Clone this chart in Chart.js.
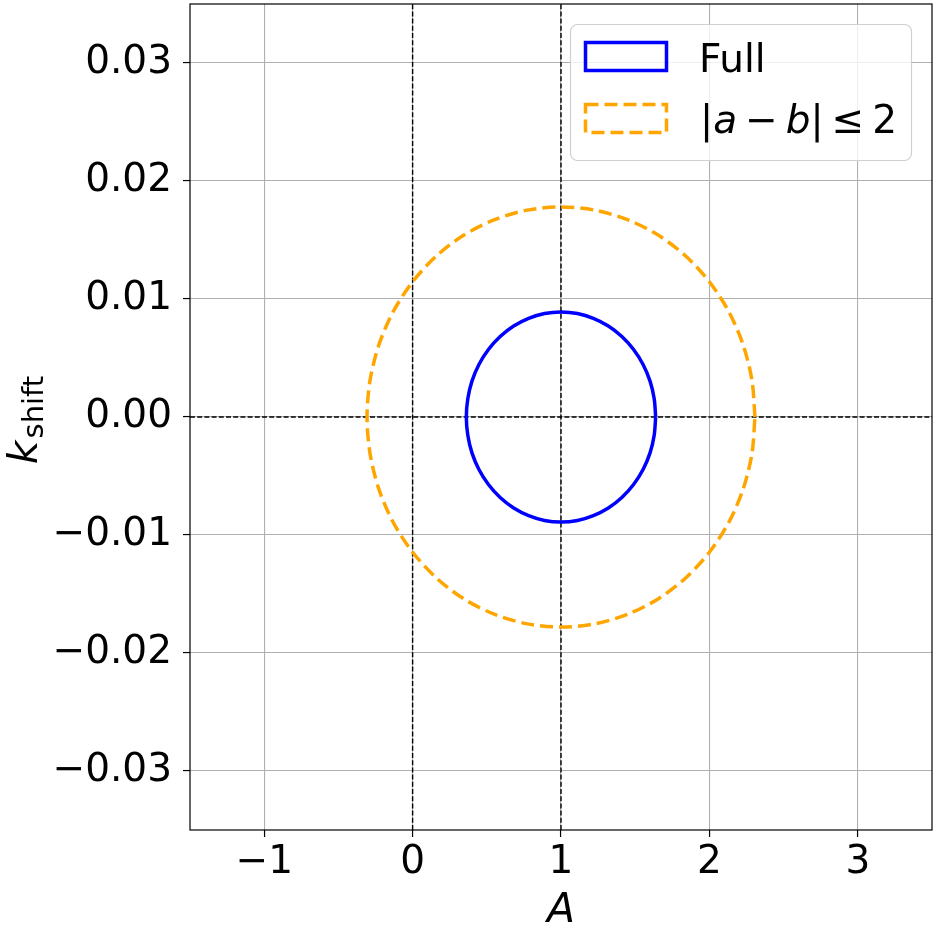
<!DOCTYPE html>
<html><head><meta charset="utf-8">
<script src="https://cdn.jsdelivr.net/npm/chart.js@4.4.0/dist/chart.umd.min.js"></script>
<style>html,body{margin:0;padding:0;background:#fff}#wrap{width:936px;height:936px}</style>
</head><body><div id="wrap"><canvas id="c" width="936" height="936"></canvas></div>
<script>
// ---- data (points traced around each contour) ----
const fullA = [1.638,1.628,1.600,1.553,1.489,1.410,1.319,1.218,1.111,1.000,0.889,0.782,0.681,0.590,0.511,0.447,0.400,0.372,0.362,
               0.372,0.400,0.447,0.511,0.590,0.681,0.782,0.889,1.000,1.111,1.218,1.319,1.410,1.489,1.553,1.600,1.628,1.638];
const fullK = [0,0.00155,0.00304,0.00445,0.00572,0.00682,0.00771,0.00836,0.00877,0.00890,0.00877,0.00836,0.00771,0.00682,0.00572,0.00445,0.00304,0.00155,0,
               -0.00155,-0.00304,-0.00445,-0.00572,-0.00682,-0.00771,-0.00836,-0.00877,-0.00890,-0.00877,-0.00836,-0.00771,-0.00682,-0.00572,-0.00445,-0.00304,-0.00155,0];
const restA = [2.307,2.287,2.228,2.132,2.001,1.840,1.654,1.447,1.227,1.000,0.773,0.553,0.346,0.160,-0.001,-0.132,-0.228,-0.287,-0.307,
               -0.287,-0.228,-0.132,-0.001,0.160,0.346,0.553,0.773,1.000,1.227,1.447,1.654,1.840,2.001,2.132,2.228,2.287,2.307];
const restK = [0,0.00309,0.00609,0.00890,0.01144,0.01364,0.01542,0.01673,0.01753,0.01780,0.01753,0.01673,0.01542,0.01364,0.01144,0.00890,0.00609,0.00309,0,
               -0.00309,-0.00609,-0.00890,-0.01144,-0.01364,-0.01542,-0.01673,-0.01753,-0.01780,-0.01753,-0.01673,-0.01542,-0.01364,-0.01144,-0.00890,-0.00609,-0.00309,0];
const vRefA = [0, 1];
const hRefK = [0];
const xRange = [-1.5, 3.5];
const yRange = [-0.035, 0.035];
const xTicks = [-1, 0, 1, 2, 3];
const xTickLabels = ['\u22121', '0', '1', '2', '3'];
const yTicks = [-0.03, -0.02, -0.01, 0, 0.01, 0.02, 0.03];
const yTickLabels = ['\u22120.03', '\u22120.02', '\u22120.01', '0.00', '0.01', '0.02', '0.03'];
const seriesNames = ['Full', '|a \u2212 b| \u2264 2'];
const xTitle = 'A';
const yTitleMain = 'k';
const yTitleSub = 'shift';

const FONT = "'DejaVu Sans'";
const toPts = (xs, ys) => xs.map((x, i) => ({x: x, y: ys[i]}));

const datasets = [
  {label: seriesNames[0], data: toPts(fullA, fullK), borderColor: '#0000ff', borderWidth: 3.5, showLine: true, pointRadius: 0, tension: 0.3, fill: false},
  {label: seriesNames[1], data: toPts(restA, restK), borderColor: '#ffa500', borderWidth: 3.5, borderDash: [13, 6], showLine: true, pointRadius: 0, tension: 0.3, fill: false}
];
vRefA.forEach(v => datasets.push({label: 'ref', data: [{x: v, y: yRange[0]}, {x: v, y: yRange[1]}], borderColor: '#000', borderWidth: 1.4, borderDash: [5, 2.2], showLine: true, pointRadius: 0}));
hRefK.forEach(v => datasets.push({label: 'ref', data: [{x: xRange[0], y: v}, {x: xRange[1], y: v}], borderColor: '#000', borderWidth: 1.4, borderDash: [5, 2.2], showLine: true, pointRadius: 0}));

const deco = {
  id: 'deco',
  afterDraw(chart) {
    const ctx = chart.ctx, a = chart.chartArea;
    ctx.save();
    // frame
    ctx.strokeStyle = '#000'; ctx.lineWidth = 1.2; ctx.setLineDash([]);
    ctx.strokeRect(a.left, a.top, a.right - a.left, a.bottom - a.top);
    // x title
    ctx.fillStyle = '#000';
    ctx.font = 'italic 41px ' + FONT; ctx.textAlign = 'center'; ctx.textBaseline = 'alphabetic';
    ctx.fillText(xTitle, (a.left + a.right) / 2, 922);
    // y title rotated
    ctx.save();
    ctx.translate(37, 420); ctx.rotate(-Math.PI / 2);
    ctx.textAlign = 'left';
    ctx.font = 'italic 41px ' + FONT; const kW = ctx.measureText(yTitleMain).width;
    ctx.font = '29px ' + FONT; const sW = ctx.measureText(yTitleSub).width;
    const x0 = -(kW + sW + 2) / 2;
    ctx.font = 'italic 41px ' + FONT; ctx.fillText(yTitleMain, x0, 0);
    ctx.font = '29px ' + FONT; ctx.fillText(yTitleSub, x0 + kW + 2, 6);
    ctx.restore();
    // legend
    ctx.beginPath();
    ctx.roundRect(570.5, 24.5, 341, 136, 7);
    ctx.fillStyle = 'rgba(255,255,255,0.8)'; ctx.fill();
    ctx.strokeStyle = '#d0d0d0'; ctx.lineWidth = 1.2; ctx.stroke();
    ctx.lineWidth = 3.5;
    ctx.strokeStyle = datasets[0].borderColor; ctx.setLineDash([]);
    ctx.strokeRect(585.5, 42.5, 81, 28);
    ctx.strokeStyle = datasets[1].borderColor; ctx.setLineDash([13, 6]);
    ctx.strokeRect(585.5, 104.5, 81, 28);
    ctx.setLineDash([]);
    ctx.fillStyle = '#000'; ctx.textAlign = 'left';
    ctx.font = '39px ' + FONT;
    ctx.fillText(seriesNames[0], 699, 72);
    // math-style second label
    const pieces = [['|', 0, 0], ['a', 1, 0], ['\u2212', 0, 8], ['b', 1, 8], ['|', 0, 0], ['\u2264', 0, 8], ['2', 0, 8]];
    let x = 700;
    pieces.forEach((p) => {
      ctx.font = (p[1] ? 'italic ' : '') + '39px ' + FONT;
      x += p[2];
      ctx.fillText(p[0], x, 133);
      x += ctx.measureText(p[0]).width;
    });
    ctx.restore();
  }
};

new Chart(document.getElementById('c'), {
  type: 'scatter',
  data: {datasets: datasets},
  options: {
    responsive: false, animation: false, devicePixelRatio: 1,
    layout: {padding: {top: 4, right: 4, left: 0, bottom: 0}},
    plugins: {legend: {display: false}, tooltip: {enabled: false}},
    scales: {
      x: {
        type: 'linear', min: xRange[0], max: xRange[1],
        afterBuildTicks: s => { s.ticks = xTicks.map(v => ({value: v})); },
        afterFit: s => { s.height = 106; s.paddingLeft = 0; s.paddingRight = 0; },
        ticks: {font: {family: 'DejaVu Sans', size: 39}, color: '#000', padding: 2, maxRotation: 0,
          callback: (v) => xTickLabels[xTicks.indexOf(v)]},
        grid: {color: '#b0b0b0', lineWidth: 1.1, tickLength: 7, tickColor: '#000', tickWidth: 1.2},
        border: {display: false}
      },
      y: {
        type: 'linear', min: yRange[0], max: yRange[1],
        afterBuildTicks: s => { s.ticks = yTicks.map(v => ({value: v})); },
        afterFit: s => { s.width = 190; s.paddingTop = 0; s.paddingBottom = 0; },
        ticks: {font: {family: 'DejaVu Sans', size: 39}, color: '#000', padding: 11,
          callback: (v) => { const i = yTicks.findIndex(t => Math.abs(t - v) < 1e-9); return yTickLabels[i]; }},
        grid: {color: '#b0b0b0', lineWidth: 1.1, tickLength: 7, tickColor: '#000', tickWidth: 1.2},
        border: {display: false}
      }
    }
  },
  plugins: [deco]
});
</script></body></html>
